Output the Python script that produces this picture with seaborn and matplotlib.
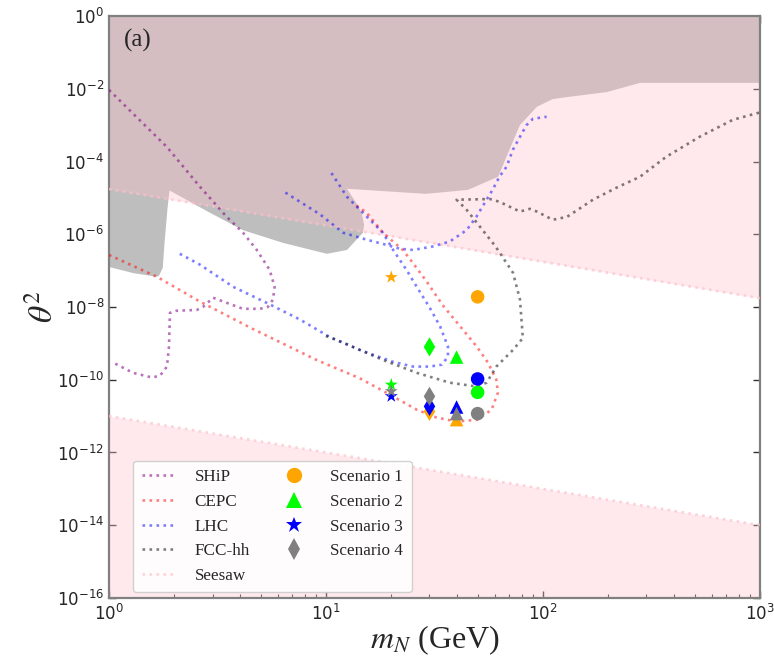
import numpy as np
import pandas as pd
import matplotlib
matplotlib.use("Agg")
import matplotlib.pyplot as plt
import seaborn as sns
from matplotlib.lines import Line2D

# ---------------------------------------------------------------- data
# Excluded region (left piece, m_N < ~15 GeV), polygon vertices
excl_left_m = [1.0, 12.5, 12.5, 13.8, 14.6, 15.0, 14.8, 12.5, 10.1, 6.34,
               4.14, 2.92, 1.90, 1.86, 1.80, 1.77, 1.70, 1.66, 1.30, 1.0]
excl_left_t = [1.0, 1.0, 1.78e-5, 7.2e-6, 3.9e-6, 1.8e-6, 1.1e-6, 3.7e-7,
               2.9e-7, 5.8e-7, 1.3e-6, 3.9e-6, 1.6e-5, 5e-6, 5e-7, 1.2e-7,
               7.2e-8, 6.8e-8, 8.5e-8, 1.26e-7]
# Excluded region (right piece)
excl_right_m = [12.5, 1000.0, 1000.0, 280.0, 197.0, 129.0, 111.0, 93.8,
                78.3, 62.1, 45.1, 28.9, 12.5]
excl_right_t = [1.0, 1.0, 1.45e-2, 1.45e-2, 8.1e-3, 5.9e-3, 5.2e-3, 3.2e-3,
                1.0e-3, 3.8e-5, 1.66e-5, 1.29e-5, 1.78e-5]

# Seesaw band edges
seesaw_m = [1.0, 1000.0]
seesaw_upper = [1.75e-5, 1.75e-8]
seesaw_lower = [1.0e-11, 1.0e-14]

# Sensitivity curves
ship_m = [1.0, 1.85, 2.63, 3.49, 4.15, 4.8, 5.5, 5.8, 5.7, 5.4, 4.96, 4.15,
          3.49, 3.02, 2.71, 2.54, 2.05, 1.91, 1.89, 1.85, 1.72, 1.58, 1.29, 1.03]
ship_t = [9.3e-3, 2.5e-4, 2.0e-5, 3.0e-6, 1.1e-6, 3.7e-7, 1.05e-7, 3.6e-8,
          1.6e-8, 1.0e-8, 8.9e-9, 8.9e-9, 1.3e-8, 1.8e-8, 1.0e-8, 8.3e-9,
          7.9e-9, 6.9e-9, 8.1e-10, 2.3e-10, 1.3e-10, 1.15e-10, 1.55e-10, 3.1e-10]

cepc_m = [1.0, 1.66, 2.63, 4.6, 9.05, 14.3, 19.7, 26.2, 32.4, 40.0, 49.6,
          58.0, 62.0, 61.0, 55.7, 49.6, 41.6, 34.4, 29.2, 25.2, 22.6, 18.3,
          15.4, 13.3]
cepc_t = [2.7e-7, 6.8e-8, 1.4e-8, 2.5e-9, 3.5e-10, 1.1e-10, 3.9e-11,
          1.5e-11, 9.1e-12, 7.1e-12, 7.9e-12, 1.5e-11, 4.4e-11, 1.0e-10,
          3.0e-10, 8.1e-10, 2.9e-9, 1.15e-8, 4.9e-8, 1.6e-7, 3.7e-7, 1.1e-6,
          3.9e-6, 7.2e-6]

lhc_a_m = [6.5, 9.4, 12.0, 15.4, 19.0, 21.9, 25.2, 31.0, 37.2, 44.5, 49.3,
           55.0, 58.6, 63.0, 68.0, 72.7, 78.4, 84.0, 90.0, 104.0]
lhc_a_t = [1.4e-5, 3.5e-6, 1.1e-6, 7.1e-7, 5.1e-7, 4.0e-7, 3.7e-7, 4.6e-7,
           6.3e-7, 1.3e-6, 3.0e-6, 8.9e-6, 1.66e-5, 3.8e-5, 7.2e-5, 2.1e-4,
           4.8e-4, 1.0e-3, 1.5e-3, 1.7e-3]
lhc_b_m = [2.12, 2.63, 3.73, 5.33, 7.6, 10.4, 14.3, 20.4, 25.2, 30.1, 34.2,
           36.5, 36.5, 33.6, 30.1, 26.2, 23.5, 20.4, 18.3, 14.8, 12.5, 10.6]
lhc_b_t = [2.9e-7, 1.45e-7, 3.6e-8, 1.3e-8, 4.5e-9, 1.5e-9, 6.6e-10,
           3.1e-10, 2.3e-10, 2.3e-10, 2.6e-10, 4.3e-10, 8.1e-10, 2.9e-9,
           9.5e-9, 3.6e-8, 1.05e-7, 3.7e-7, 1.1e-6, 3.9e-6, 1.07e-5, 4.8e-5]

fcc_m = [10.0, 12.0, 18.3, 26.2, 37.2, 49.6, 55.0, 61.0, 72.8, 80.8, 80.3,
         78.4, 72.8, 62.0, 58.7, 51.3, 44.5, 40.0, 57.0, 63.0, 78.4, 87.0,
         93.8, 111.0, 129.0, 170.0, 218.0, 280.0, 370.0, 528.0, 750.0, 990.0]
fcc_t = [1.6e-9, 1.05e-9, 3.5e-10, 1.55e-10, 8.3e-11, 6.5e-11, 8.3e-11,
         2.3e-10, 6.6e-10, 1.4e-9, 2.3e-9, 1.6e-8, 8.7e-8, 3.7e-7, 5.8e-7,
         1.6e-6, 4.7e-6, 8.9e-6, 9.3e-6, 7.8e-6, 4.2e-6, 5.0e-6, 4.2e-6,
         2.5e-6, 3.0e-6, 8.9e-6, 1.9e-5, 3.8e-5, 1.35e-4, 4.8e-4, 1.4e-3,
         2.2e-3]

# Benchmark points: heavy-neutrino mass, mixing, scenario
bench_mass = [20, 20, 20, 20, 30, 30, 30, 30, 40, 40, 40, 40, 50, 50, 50, 50]
bench_theta2 = [6.6e-8, 7.3e-11, 3.5e-11, 4.8e-11,
                1.35e-11, 8.0e-10, 1.85e-11, 3.5e-11,
                8.0e-12, 4.2e-10, 1.78e-11, 1.17e-11,
                1.9e-8, 4.5e-11, 1.05e-10, 1.17e-11]
bench_scen = ["Scenario 1", "Scenario 2", "Scenario 3", "Scenario 4"] * 4

scenario_names = ["Scenario 1", "Scenario 2", "Scenario 3", "Scenario 4"]
scenario_colors = ["orange", "lime", "blue", "gray"]
mass_markers = {20: "*", 30: "d", 40: "^", 50: "o"}
legend_markers = ["o", "^", "*", "d"]

curve_names = ["SHiP", "CEPC", "LHC", "FCC-hh", "Seesaw"]
curve_colors = ["purple", "red", "blue", "black", "pink"]
curve_alphas = [0.55, 0.5, 0.5, 0.5, 0.7]

# ---------------------------------------------------------------- figure
sns.set_style("ticks")
plt.rcParams["font.family"] = ["DejaVu Sans"]

fig = plt.figure(figsize=(7.74, 6.59), dpi=100)
ax = fig.add_axes([0.1408, 0.0926, 0.8410, 0.8831])
ax.set_xscale("log")
ax.set_yscale("log")

# shaded regions
ax.fill(excl_left_m, excl_left_t, color="#bebebe", lw=0, zorder=1)
ax.fill(excl_right_m, excl_right_t, color="#bebebe", lw=0, zorder=1)
ax.fill_between(seesaw_m, seesaw_upper, [1.0, 1.0], color="pink",
                alpha=0.35, lw=0, zorder=2)
ax.fill_between(seesaw_m, [1e-16, 1e-16], seesaw_lower, color="pink",
                alpha=0.35, lw=0, zorder=2)

lw = 1.9
style = dict(linestyle=":", linewidth=lw, sort=False, estimator=None,
             legend=False, ax=ax, zorder=3)
sns.lineplot(x=seesaw_m, y=seesaw_upper, color=curve_colors[4],
             alpha=curve_alphas[4], **style)
sns.lineplot(x=seesaw_m, y=seesaw_lower, color=curve_colors[4],
             alpha=curve_alphas[4], **style)
sns.lineplot(x=ship_m, y=ship_t, color=curve_colors[0],
             alpha=curve_alphas[0], **style)
sns.lineplot(x=cepc_m, y=cepc_t, color=curve_colors[1],
             alpha=curve_alphas[1], **style)
sns.lineplot(x=lhc_a_m, y=lhc_a_t, color=curve_colors[2],
             alpha=curve_alphas[2], **style)
sns.lineplot(x=lhc_b_m, y=lhc_b_t, color=curve_colors[2],
             alpha=curve_alphas[2], **style)
sns.lineplot(x=fcc_m, y=fcc_t, color=curve_colors[3],
             alpha=curve_alphas[3], **style)

# benchmark points
bench = pd.DataFrame({"m": bench_mass, "t": bench_theta2, "scen": bench_scen})
for name, col in zip(scenario_names, scenario_colors):
    sub = bench[bench["scen"] == name]
    sns.scatterplot(data=sub, x="m", y="t", style="m", markers=mass_markers,
                    color=col, s=95, linewidth=0, legend=False, ax=ax,
                    zorder=4)

ax.set_xlim(1, 1000)
ax.set_ylim(1e-16, 1)
ax.set_yticks([10.0 ** k for k in range(-16, 1, 2)])
ax.yaxis.set_minor_locator(matplotlib.ticker.NullLocator())
ax.tick_params(which="both", direction="in", top=True, right=True,
               labelsize=12, color="#333333")
ax.tick_params(which="major", length=5, width=1)
ax.tick_params(which="minor", length=3, width=0.8)
ax.tick_params(axis="x", which="major", pad=4.5)
for sp in ax.spines.values():
    sp.set_color("#808080")
    sp.set_linewidth(1.6)

ax.set_xlabel(r"$m_N$ (GeV)", fontsize=23, family="Liberation Serif",
              math_fontfamily="stix", labelpad=-1)
ax.set_ylabel(r"$\theta^2$", fontsize=24, family="Liberation Serif",
              math_fontfamily="stix", labelpad=-2)
ax.text(0.023, 0.958, "(a)", transform=ax.transAxes, fontsize=18,
        family="Liberation Serif", va="center", ha="left")

# legend
handles = [Line2D([], [], linestyle=":", linewidth=lw, color=c, alpha=a)
           for c, a in zip(curve_colors, curve_alphas)]
handles += [Line2D([], [], linestyle="none", marker=mk, color=c,
                   markersize=11 if mk != "*" else 12, markeredgewidth=0)
            for mk, c in zip(legend_markers, scenario_colors)]
labels = curve_names + scenario_names
handles.insert(9, Line2D([], [], linestyle="none"))
labels.insert(9, "")
leg = ax.legend(handles, labels, loc="lower left", ncol=2,
                prop={"family": "Liberation Serif", "size": 12.3},
                frameon=True, fancybox=True, handlelength=2.0,
                handletextpad=1.1, columnspacing=1.6, borderpad=0.5,
                labelspacing=0.5, borderaxespad=0,
                bbox_to_anchor=(0.037, 0.01))
leg.get_frame().set_edgecolor("#cccccc")
leg.get_frame().set_alpha(0.9)

fig.savefig("out.png", dpi=100)
